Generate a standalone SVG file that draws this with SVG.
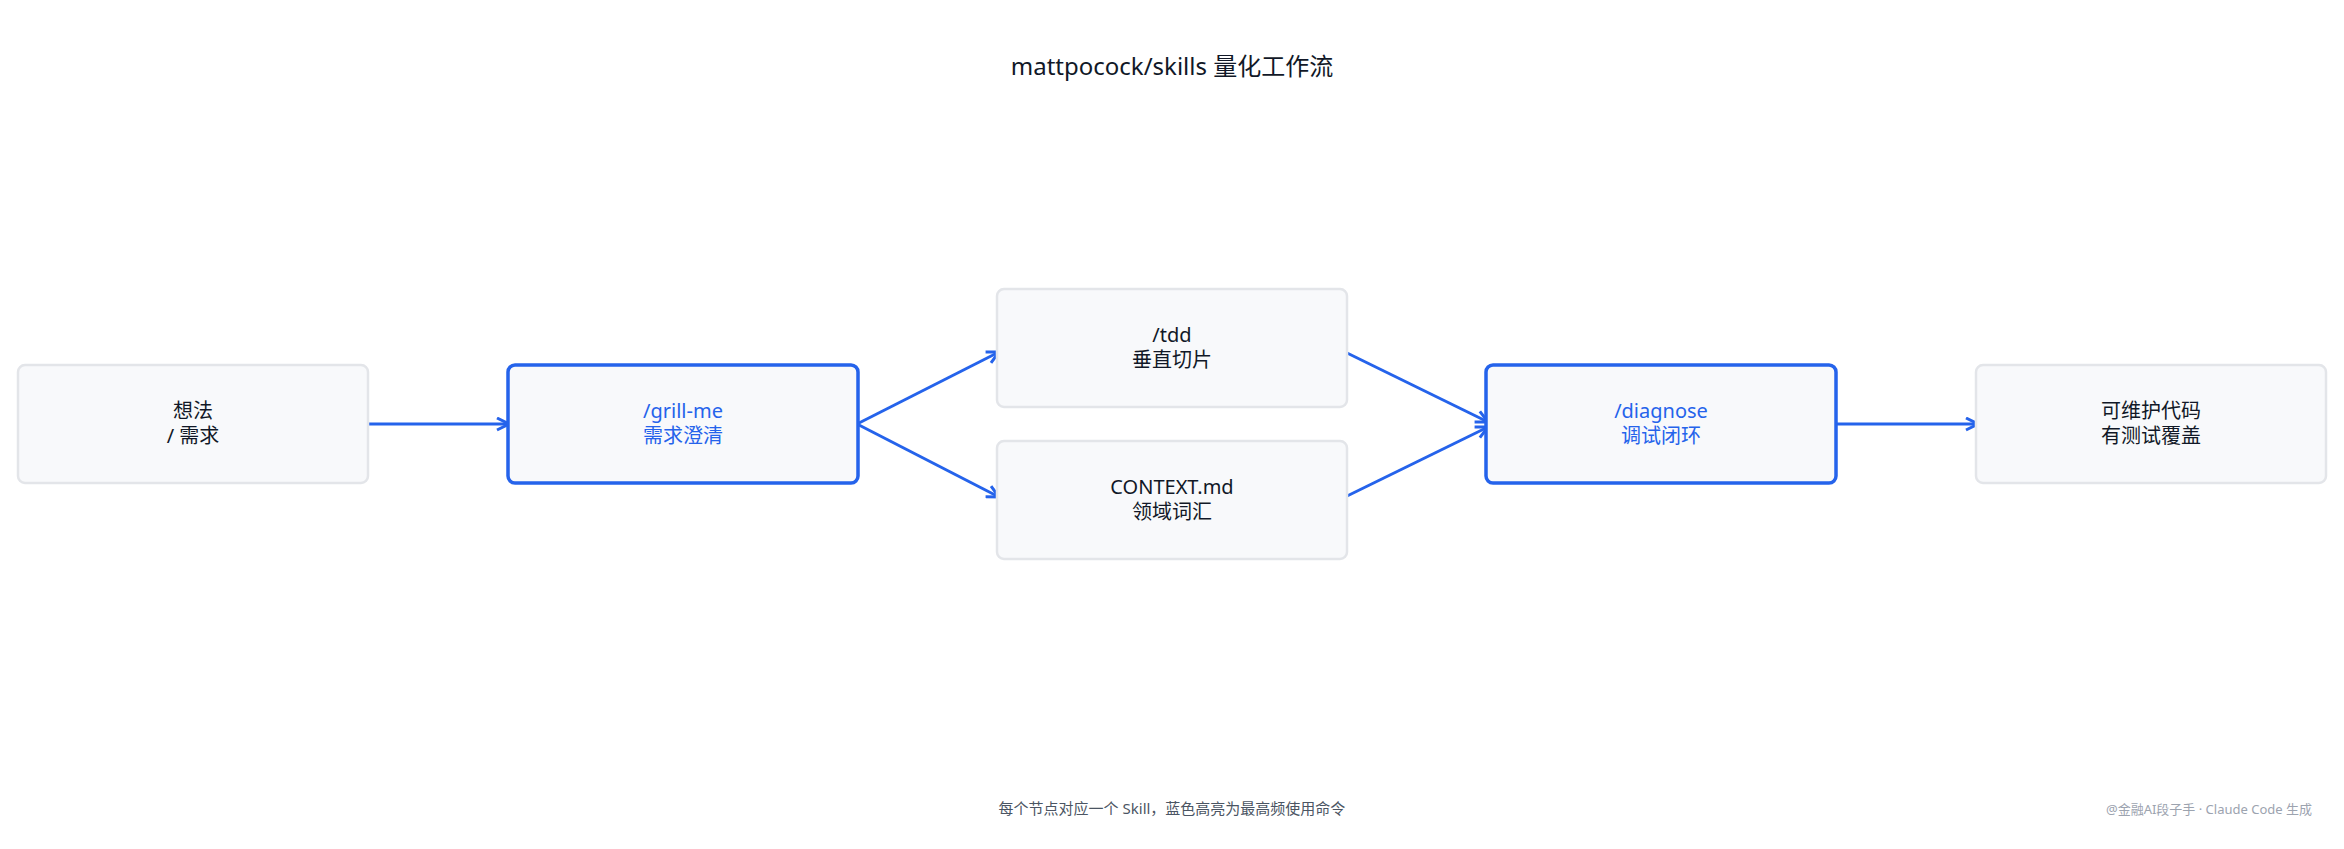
<svg xmlns="http://www.w3.org/2000/svg" width="2344" height="849" viewBox="0 0 2344 849">
<style>
text{font-family:"Noto Sans","Noto Sans CJK SC",sans-serif;text-anchor:middle}
.n{fill:#f8f9fb;stroke:#e3e5e9;stroke-width:2.5}
.h{fill:#f8f9fb;stroke:#2563eb;stroke-width:3.5}
.t{font-size:20px;fill:#111827}
.b{font-size:20px;fill:#2563eb}
.c{stroke:#2563eb;stroke-width:3;fill:none;marker-end:url(#a)}
</style>
<defs><marker id="a" viewBox="0 0 10 10" refX="9" refY="5" markerWidth="5" markerHeight="5" orient="auto"><path d="M1,1 L9,5 L1,9" fill="none" stroke="#2563eb" stroke-width="2"/></marker></defs>
<rect width="2344" height="849" fill="#fff"/>
<text x="1172" y="75" font-size="24" fill="#111827">mattpocock/skills 量化工作流</text>
<g id="connectors">
<path class="c" d="M364,424 H509"/>
<path class="c" d="M857,424 L999,352"/>
<path class="c" d="M857,424 L999,497"/>
<path class="c" d="M1343,351 L1488,422"/>
<path class="c" d="M1343,498 L1488,427"/>
<path class="c" d="M1836,424 H1978"/>
</g>
<g id="idea"><rect class="n" x="18" y="365" width="350" height="118" rx="7"/><text class="t" x="193" y="418">想法</text><text class="t" x="193" y="443">/ 需求</text></g>
<g id="grill"><rect class="h" x="508" y="365" width="350" height="118" rx="7"/><text class="b" x="683" y="418">/grill-me</text><text class="b" x="683" y="443">需求澄清</text></g>
<g id="tdd"><rect class="n" x="997" y="289" width="350" height="118" rx="7"/><text class="t" x="1172" y="342">/tdd</text><text class="t" x="1172" y="367">垂直切片</text></g>
<g id="context"><rect class="n" x="997" y="441" width="350" height="118" rx="7"/><text class="t" x="1172" y="494">CONTEXT.md</text><text class="t" x="1172" y="519">领域词汇</text></g>
<g id="diagnose"><rect class="h" x="1486" y="365" width="350" height="118" rx="7"/><text class="b" x="1661" y="418">/diagnose</text><text class="b" x="1661" y="443">调试闭环</text></g>
<g id="code"><rect class="n" x="1976" y="365" width="350" height="118" rx="7"/><text class="t" x="2151" y="418">可维护代码</text><text class="t" x="2151" y="443">有测试覆盖</text></g>
<text x="1172" y="814" font-size="15" fill="#4b5563">每个节点对应一个 Skill，蓝色高亮为最高频使用命令</text>
<text x="2312" y="814" font-size="13" fill="#9ca3af" style="text-anchor:end">@金融AI段子手 ·  Claude Code 生成</text>
</svg>
